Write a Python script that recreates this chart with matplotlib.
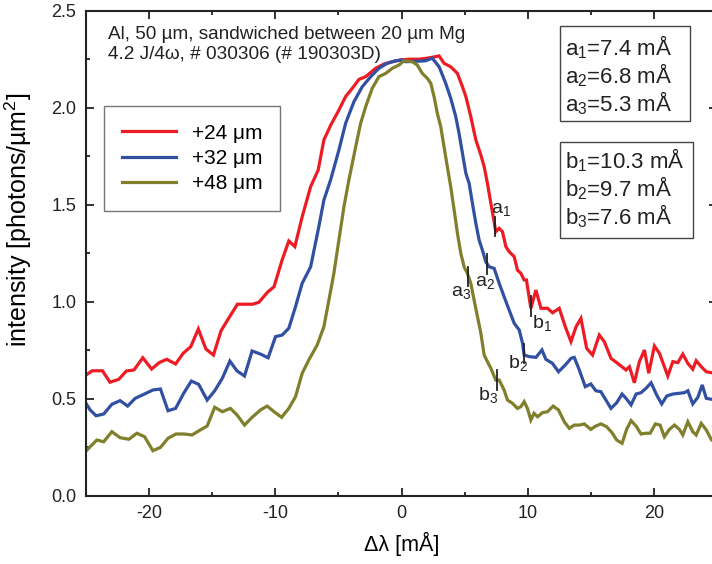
import numpy as np
import matplotlib
matplotlib.use("Agg")
import matplotlib.pyplot as plt
from matplotlib.patches import Rectangle

plt.rcParams['font.family'] = ['Liberation Sans', 'DejaVu Sans']
plt.rcParams['mathtext.fontset'] = 'custom'
plt.rcParams['mathtext.rm'] = 'Liberation Sans'
plt.rcParams['mathtext.it'] = 'Liberation Sans:italic'
plt.rcParams['mathtext.default'] = 'regular'
plt.rcParams['axes.unicode_minus'] = False

# data
x_red = [-25.0, -24.5, -23.7, -23.1, -22.4, -21.8, -21.2, -20.5, -19.8, -19.2, -18.6, -17.9,
         -17.3, -16.7, -16.1, -15.5, -14.9, -14.3, -13.7, -13.0, -11.8, -11.3, -10.6, -10.1,
         -9.46, -8.93, -8.45, -7.87, -7.2, -6.6, -6.15, -5.6, -4.96, -4.43, -3.9, -3.37,
         -2.84, -2.05, -1.39, -0.73, -0.06, 0.6, 1.39, 2.0, 2.44, 2.98, 3.37, 3.9, 4.43,
         4.83, 5.1, 5.49, 5.89, 6.29, 6.55, 6.81, 7.08, 7.34, 7.47, 7.74, 8.0, 8.27, 8.53,
         8.93, 9.19, 9.46, 9.72, 9.9, 10.25, 10.65, 11.05, 11.57, 11.97, 12.5, 12.98,
         13.43, 13.83, 14.22, 14.67, 15.14, 15.67, 16.07, 16.6, 17.13, 17.79, 18.06, 18.45,
         18.85, 19.25, 19.59, 20.04, 20.44, 21.1, 21.5, 21.9, 22.29, 22.69, 23.08, 23.35,
         23.75, 24.15, 24.57, 25.0]
y_red = [0.622, 0.644, 0.644, 0.585, 0.60, 0.643, 0.648, 0.711, 0.653, 0.686, 0.703, 0.679,
         0.734, 0.768, 0.859, 0.756, 0.725, 0.85, 0.914, 0.987, 0.987, 0.997, 1.05, 1.077,
         1.215, 1.313, 1.284, 1.438, 1.593, 1.679, 1.834, 1.911, 1.988, 2.057, 2.10, 2.146,
         2.16, 2.203, 2.225, 2.237, 2.246, 2.25, 2.25, 2.255, 2.26, 2.267, 2.229, 2.211, 2.177,
         2.108, 2.057, 1.954, 1.834, 1.756, 1.696, 1.61, 1.507, 1.412, 1.361, 1.378, 1.361,
         1.284, 1.258, 1.232, 1.163, 1.146, 1.112, 1.112, 0.966, 1.06, 0.966, 0.966, 0.943,
         0.966, 0.871, 0.794, 0.871, 0.914, 0.76, 0.725, 0.828, 0.794, 0.708, 0.682, 0.648,
         0.665, 0.582, 0.691, 0.751, 0.631, 0.772, 0.734, 0.617, 0.691, 0.686, 0.73, 0.682,
         0.652, 0.696, 0.665, 0.639, 0.634, 0.63]

x_blue = [-25.0, -24.67, -24.2, -23.6, -22.95, -22.3, -21.7, -21.1, -20.4, -19.7, -19.1,
          -18.5, -17.9, -17.26, -16.65, -16.07, -15.4, -14.8, -14.2, -13.6, -13.03, -12.44,
          -11.84, -11.17, -10.57, -9.98, -9.46, -8.93, -8.4, -7.87, -7.2, -6.55, -6.15,
          -5.62, -4.96, -4.43, -3.77, -3.11, -2.44, -1.79, -1.13, -0.46, 0.06, 0.33, 1.39,
          1.92, 2.44, 2.98, 3.5, 3.9, 4.3, 4.56, 4.83, 5.1, 5.36, 5.62, 5.89, 6.15, 6.41,
          6.68, 6.94, 7.34, 7.74, 8.13, 8.53, 8.93, 9.33, 9.59, 9.72, 10.12, 10.65, 11.13,
          11.44, 11.97, 12.44, 12.98, 13.43, 13.69, 14.09, 14.56, 15.0, 15.4, 15.8, 16.2,
          16.6, 17.05, 17.48, 17.79, 18.19, 18.59, 18.98, 19.38, 19.78, 20.22, 20.62, 21.02,
          21.5, 22.02, 22.42, 22.69, 23.08, 23.48, 23.83, 24.15, 24.57, 25.0]
y_blue = [0.476, 0.442, 0.412, 0.421, 0.471, 0.49, 0.462, 0.502, 0.523, 0.545, 0.55,
          0.438, 0.45, 0.528, 0.591, 0.574, 0.493, 0.541, 0.605, 0.694, 0.643, 0.617,
          0.746, 0.73, 0.711, 0.82, 0.828, 0.863, 0.974, 1.095, 1.18, 1.387, 1.524,
          1.627, 1.782, 1.919, 2.031, 2.108, 2.16, 2.203, 2.229, 2.242, 2.246, 2.237, 2.24,
          2.242, 2.255, 2.211, 2.126, 2.049, 1.954, 1.868, 1.765, 1.662, 1.61, 1.507, 1.404,
          1.318, 1.266, 1.206, 1.18, 1.172, 1.095, 1.026, 0.957, 0.889, 0.854, 0.786, 0.725,
          0.717, 0.713, 0.751, 0.703, 0.682, 0.639, 0.674, 0.708, 0.713, 0.648, 0.562, 0.576,
          0.541, 0.536, 0.493, 0.45, 0.479, 0.524, 0.502, 0.468, 0.524, 0.531, 0.554, 0.582,
          0.519, 0.473, 0.514, 0.524, 0.528, 0.531, 0.541, 0.473, 0.507, 0.571, 0.502, 0.497,
          0.50]

x_olive = [-25.0, -24.8, -24.14, -23.6, -22.95, -22.3, -21.6, -20.97, -20.36, -19.7, -19.1,
           -18.5, -17.87, -17.2, -16.6, -15.94, -15.4, -14.8, -14.2, -13.56, -13.03, -12.44,
           -11.84, -11.17, -10.65, -10.1, -9.5, -8.93, -8.4, -7.87, -7.34, -6.68, -6.15,
           -5.75, -5.36, -4.96, -4.56, -4.17, -3.63, -3.24, -2.84, -2.32, -1.79, -1.25,
           -0.73, -0.2, 0.2, 0.86, 1.25, 1.65, 2.05, 2.32, 2.58, 2.84, 3.11, 3.37, 3.63,
           3.9, 4.17, 4.43, 4.7, 4.96, 5.22, 5.49, 5.75, 6.02, 6.29, 6.55, 6.81, 7.08, 7.47,
           7.74, 8.13, 8.4, 8.8, 9.19, 9.46, 9.72, 9.98, 10.25, 10.5, 10.78, 11.17, 11.57,
           12.02, 12.44, 12.9, 13.3, 13.69, 14.09, 14.48, 15.0, 15.4, 15.8, 16.25, 16.68,
           17.05, 17.48, 17.84, 18.19, 18.59, 18.98, 19.38, 19.7, 20.12, 20.49, 20.83, 21.23,
           21.63, 22.02, 22.29, 22.69, 23.08, 23.35, 23.75, 24.15, 24.57, 25.0]
y_olive = [0.23, 0.244, 0.287, 0.278, 0.33, 0.299, 0.291, 0.322, 0.304, 0.232, 0.249,
           0.296, 0.318, 0.318, 0.313, 0.339, 0.359, 0.456, 0.433, 0.45, 0.416, 0.364,
           0.404, 0.442, 0.462, 0.433, 0.404, 0.45, 0.51, 0.631, 0.70, 0.777, 0.871,
           1.009, 1.146, 1.318, 1.49, 1.627, 1.799, 1.919, 2.005, 2.10, 2.16, 2.177,
           2.203, 2.22, 2.242, 2.237, 2.22, 2.177, 2.151, 2.126, 2.057, 1.971, 1.902, 1.799,
           1.696, 1.593, 1.473, 1.353, 1.249, 1.18, 1.146, 1.095, 1.009, 0.923, 0.837, 0.725,
           0.691, 0.657, 0.596, 0.596, 0.545, 0.493, 0.476, 0.45, 0.459, 0.485, 0.45, 0.39,
           0.425, 0.407, 0.428, 0.433, 0.462, 0.442, 0.381, 0.347, 0.364, 0.364, 0.37, 0.342,
           0.359, 0.37, 0.356, 0.325, 0.287, 0.27, 0.342, 0.387, 0.359, 0.318, 0.322, 0.322,
           0.37, 0.364, 0.304, 0.342, 0.364, 0.342, 0.313, 0.381, 0.33, 0.313, 0.373, 0.339,
           0.287, 0.28]

labels = ['+24 \u03bcm', '+32 \u03bcm', '+48 \u03bcm']
colors = ['#ED1C24', '#3250A2', '#7F7F2C']

a_pos = [7.4, 6.8, 5.3]
b_pos = [10.3, 9.7, 7.6]
a_text = ['a$_1$=7.4 m\u00c5', 'a$_2$=6.8 m\u00c5', 'a$_3$=5.3 m\u00c5']
b_text = ['b$_1$=10.3 m\u00c5', 'b$_2$=9.7 m\u00c5', 'b$_3$=7.6 m\u00c5']

fig = plt.figure(figsize=(7.12, 5.64), dpi=100)
ax = fig.add_axes([86 / 712, 68.3 / 564, 631 / 712, 485 / 564])

series = [(x_red, y_red), (x_blue, y_blue), (x_olive, y_olive)]
for (xs, ys), c, lab in zip(series, colors, labels):
    ax.plot(xs, ys, color=c, lw=2.3, label=lab, solid_joinstyle='miter')

# tick marks for a_i / b_i on the curves
a_off = [(6, 17), (-2, -18), (-7, -16)]
b_off = [(10, -17), (-6, -10), (-9, -15)]
for i, (xs, ys) in enumerate(series):
    for pos, name, off in [(a_pos[i], 'a', a_off[i]), (b_pos[i], 'b', b_off[i])]:
        yc = np.interp(pos, xs, ys)
        ax.plot([pos, pos], [yc - 0.05, yc + 0.05], color='#222222', lw=1.3)
        ax.annotate('%s$_%d$' % (name, i + 1), (pos, yc), xytext=off,
                    textcoords='offset pixels', ha='center', va='center',
                    fontsize=14, color='#222222')

ax.set_xlim(-25, 25)
ax.set_ylim(0, 2.5)
ax.set_xticks([-20, -10, 0, 10, 20])
ax.set_xticks(np.arange(-25, 26, 5), minor=True)
ax.set_yticks(np.arange(0, 2.51, 0.5))
ax.set_yticks(np.arange(0, 2.51, 0.25), minor=True)
ax.yaxis.set_major_formatter(matplotlib.ticker.FormatStrFormatter('%.1f'))
ax.tick_params(which='both', direction='in', top=True, right=True, width=1.3,
               labelsize=13, pad=7, colors='#222222')
ax.tick_params(which='major', length=6)
ax.tick_params(which='minor', length=3)
for sp in ax.spines.values():
    sp.set_linewidth(1.5)
    sp.set_color('#222222')

ax.set_xlabel('\u0394\u03bb [m\u00c5]', fontsize=15.5, labelpad=7)
ax.set_ylabel('intensity [photons/\u00b5m$^2$]', fontsize=18)
ax.yaxis.set_label_coords(-0.083, 0.57)

ax.text(0.035, 0.9416, 'Al, 50 \u00b5m, sandwiched between 20 \u00b5m Mg', transform=ax.transAxes,
        fontsize=13.7, va='baseline', color='#222222')
ax.text(0.035, 0.9014, '4.2 J/4\u03c9, # 030306 (# 190303D)', transform=ax.transAxes,
        fontsize=13.7, va='baseline', color='#222222')

leg = ax.legend(loc='upper left', bbox_to_anchor=(0.0286, 0.8035), borderaxespad=0,
                fancybox=False, edgecolor='#555555', fontsize=15, handlelength=2.6,
                handletextpad=0.75, labelspacing=0.3, borderpad=0.85)
leg.get_frame().set_linewidth(1.0)

# parameter boxes
ax.add_patch(Rectangle((0.7508, 0.773), 0.206, 0.196, transform=ax.transAxes,
                       fill=False, ec='#444444', lw=1.0))
ax.add_patch(Rectangle((0.7508, 0.5307), 0.2106, 0.1992, transform=ax.transAxes,
                       fill=False, ec='#444444', lw=1.0))
for t, yb in zip(a_text, [0.9086, 0.8502, 0.7918]):
    ax.text(0.7587, yb, t, transform=ax.transAxes, fontsize=16, va='baseline', color='#222222')
for t, yb in zip(b_text, [0.675, 0.6165, 0.560]):
    ax.text(0.7587, yb, t, transform=ax.transAxes, fontsize=16, va='baseline', color='#222222')

fig.savefig('out.png', dpi=100)
